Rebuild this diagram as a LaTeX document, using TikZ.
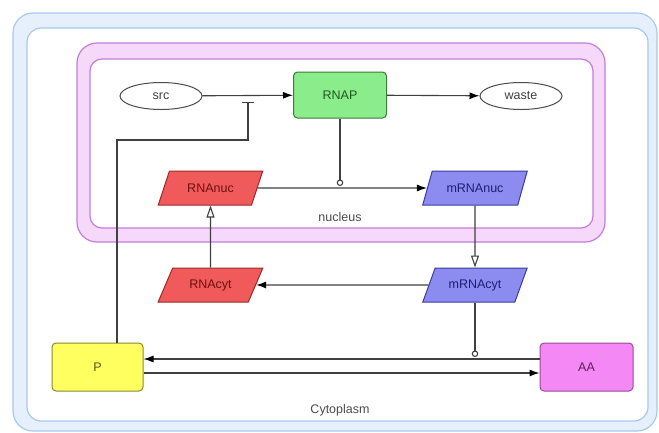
\documentclass[tikz,border=0pt]{standalone}
\usepackage{fontspec}
\setmainfont{Liberation Sans}
\usetikzlibrary{shapes.geometric,arrows.meta,calc}

\definecolor{cytofill}{HTML}{E6F0FC}
\definecolor{cytoline}{HTML}{A9C9EC}
\definecolor{nucfill}{HTML}{F6D8FA}
\definecolor{nucline}{HTML}{C27EDC}
\definecolor{linegray}{HTML}{404040}
\definecolor{rnapfill}{HTML}{8AEC8A}
\definecolor{rnapline}{HTML}{3A7A3A}
\definecolor{rnapfont}{HTML}{1E5A1E}
\definecolor{redfill}{HTML}{F05A5A}
\definecolor{redline}{HTML}{A02828}
\definecolor{redfont}{HTML}{701010}
\definecolor{bluefill}{HTML}{8C8CF0}
\definecolor{blueline}{HTML}{3C3CA0}
\definecolor{bluefont}{HTML}{1E1E70}
\definecolor{pfill}{HTML}{FFFF60}
\definecolor{pline}{HTML}{8A8A30}
\definecolor{pfont}{HTML}{5A5A10}
\definecolor{aafill}{HTML}{F488F4}
\definecolor{aaline}{HTML}{9A4A9A}
\definecolor{aafont}{HTML}{5A205A}

\tikzset{
  species/.style={draw=#1, line width=1pt, font=\fontsize{12.5}{14}\selectfont, inner sep=0pt},
  boxnode/.style={rectangle, rounded corners=4pt, minimum height=48pt},
  para/.style={trapezium, trapezium left angle=54, trapezium right angle=126,
    trapezium stretches=true, minimum width=105pt, minimum height=34pt},
  conn/.style={draw=linegray, line width=1.1pt},
  fwd/.style={conn, -{Latex[length=10pt,width=7pt,color=black]}},
  transport/.style={conn, -{Triangle[open,length=12pt,width=8pt,fill=white]}},
  modif/.style={conn, -{Circle[open,length=6.5pt,width=6.5pt,fill=white]}},
  inhib/.style={conn, -{Bar[width=12pt]}},
  complabel/.style={font=\fontsize{12.5}{14}\selectfont, text=black!70}
}

\begin{document}
\begin{tikzpicture}[x=1pt,y=-1pt]
\useasboundingbox (0,0) rectangle (659,432);

% compartments
\draw[cytoline, line width=1.2pt, fill=cytofill, rounded corners=20pt] (13,13) rectangle (657,431);
\draw[cytoline, line width=1.2pt, fill=white, rounded corners=14pt] (27,28) rectangle (648,421);
\draw[nucline, line width=1.2pt, fill=nucfill, rounded corners=20pt] (77,43) rectangle (605,242);
\draw[nucline, line width=1.2pt, fill=white, rounded corners=12pt] (90,59) rectangle (593,228);

\node[complabel] (nuclab) at (340,217) {nucleus};
\node[complabel] (cytolab) at (340,410) {Cytoplasm};

% species
\node[species=black!70, ellipse, fill=white, minimum width=82pt, minimum height=27pt, text=black!75] (src) at (161,96) {src};
\node[species=rnapline, boxnode, fill=rnapfill, minimum width=93pt, minimum height=46pt, text=rnapfont] (RNAP) at (340,95) {RNAP};
\node[species=black!70, ellipse, fill=white, minimum width=82pt, minimum height=27pt, text=black!75] (waste) at (521,96) {waste};

\node[species=redline, para, fill=redfill, text=redfont] (RNAnuc) at (210.5,188) {RNAnuc};
\node[species=blueline, para, fill=bluefill, text=bluefont] (mRNAnuc) at (475,188) {mRNAnuc};
\node[species=redline, para, fill=redfill, text=redfont] (RNAcyt) at (210.5,285) {RNAcyt};
\node[species=blueline, para, fill=bluefill, text=bluefont] (mRNAcyt) at (475,285) {mRNAcyt};

\node[species=pline, boxnode, fill=pfill, minimum width=91pt, text=pfont] (P) at (97.5,367) {P};
\node[species=aaline, boxnode, fill=aafill, minimum width=93pt, text=aafont] (AA) at (586.5,367) {AA};

% reactions
\draw[fwd] (src) -- (RNAP);
\draw[fwd] (RNAP) -- (waste);
\draw[fwd] (RNAnuc) -- (mRNAnuc);
\draw[fwd] (mRNAcyt) -- (RNAcyt);
\draw[fwd] ([yshift=8pt]AA.west) -- ([yshift=8pt]P.east);
\draw[fwd] ([yshift=-6pt]P.east) -- ([yshift=-6pt]AA.west);

% transport between compartments
\draw[transport] (RNAcyt) -- (RNAnuc);
\draw[transport] (mRNAnuc) -- (mRNAcyt);

% modifiers
\coordinate (mod1) at (340,186);
\draw[modif] (RNAP) -- (mod1);
\coordinate (mod2) at (475,357);
\draw[modif] (mRNAcyt) -- (mod2);

% inhibition of the src reaction by P
\coordinate (bend) at (248,140);
\coordinate (inh) at (248,102);
\draw[inhib] ([xshift=19.5pt]P.north) |- (bend) -- (inh);
\end{tikzpicture}
\end{document}
